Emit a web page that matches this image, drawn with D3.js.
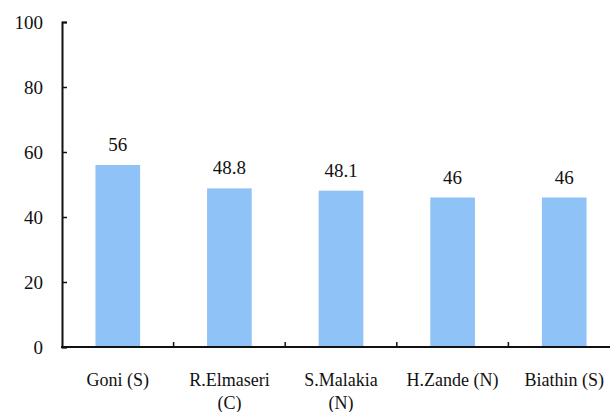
<!DOCTYPE html>
<html><head><meta charset="utf-8">
<script src="https://cdn.jsdelivr.net/npm/d3@7"></script>
<style>body{margin:0;background:#fff}svg{display:block}</style>
</head><body>
<svg id="c" width="610" height="412"></svg>
<script>
const categories = ["Goni (S)", "R.Elmaseri (C)", "S.Malakia (N)", "H.Zande (N)", "Biathin (S)"];
const values = [56, 48.8, 48.1, 46, 46];
const valueLabels = ["56", "48.8", "48.1", "46", "46"];
const yTicks = [0, 20, 40, 60, 80, 100];

const svg = d3.select("#c");
const font = "'Liberation Serif', 'DejaVu Serif', serif";
const x = d3.scaleBand().domain(categories).range([62, 620]).paddingInner(0.6).paddingOuter(0.3);
const y = d3.scaleLinear().domain([0, 100]).range([347, 22]);

svg.append("g").selectAll("rect").data(values).join("rect")
  .attr("x", (d, i) => x(categories[i]))
  .attr("y", d => y(d))
  .attr("width", x.bandwidth())
  .attr("height", d => y(0) - y(d))
  .attr("fill", "#8fc2f6");

const ya = svg.append("g").attr("transform", "translate(62,0)")
  .call(d3.axisLeft(y).tickValues(yTicks).tickFormat(d3.format("d")).tickSizeInner(-5).tickSizeOuter(-5).tickPadding(19));
ya.attr("font-family", font).attr("font-size", 19);
ya.select(".domain").attr("stroke", "#111").attr("stroke-width", 2);
ya.selectAll(".tick line").attr("stroke", "#111").attr("stroke-width", 1.5);
ya.selectAll("text").attr("font-family", font).attr("font-size", 19).attr("fill", "#111");

// x axis
svg.append("line").attr("x1", 61).attr("x2", 610).attr("y1", y(0)).attr("y2", y(0))
  .attr("stroke", "#111").attr("stroke-width", 2);
const bounds = categories.slice(1).map(c => x(c) - x.step() * x.paddingInner() / 2);
svg.append("g").selectAll("line").data(bounds).join("line")
  .attr("x1", d => d).attr("x2", d => d).attr("y1", y(0)).attr("y2", y(0) - 5)
  .attr("stroke", "#111").attr("stroke-width", 1.5);

// value labels
svg.append("g").selectAll("text").data(values).join("text")
  .attr("x", (d, i) => x(categories[i]) + x.bandwidth() / 2)
  .attr("y", d => y(d) - 14)
  .attr("text-anchor", "middle")
  .attr("font-family", font).attr("font-size", 19).attr("fill", "#111")
  .text((d, i) => valueLabels[i]);

// category labels with wrapping
const maxW = 100;
categories.forEach((c, i) => {
  const cx = x(c) + x.bandwidth() / 2;
  const t = svg.append("text")
    .attr("x", cx)
    .attr("y", 386)
    .attr("text-anchor", "middle")
    .attr("font-family", font).attr("font-size", 18).attr("fill", "#111");
  const words = c.split(" ");
  let line = [];
  let tspan = t.append("tspan").attr("x", cx).attr("dy", 0);
  words.forEach(w => {
    line.push(w);
    tspan.text(line.join(" "));
    if (tspan.node().getComputedTextLength() > maxW && line.length > 1) {
      line.pop();
      tspan.text(line.join(" "));
      line = [w];
      tspan = t.append("tspan").attr("x", cx).attr("dy", 23).text(w);
    }
  });
});
</script>
</body></html>
